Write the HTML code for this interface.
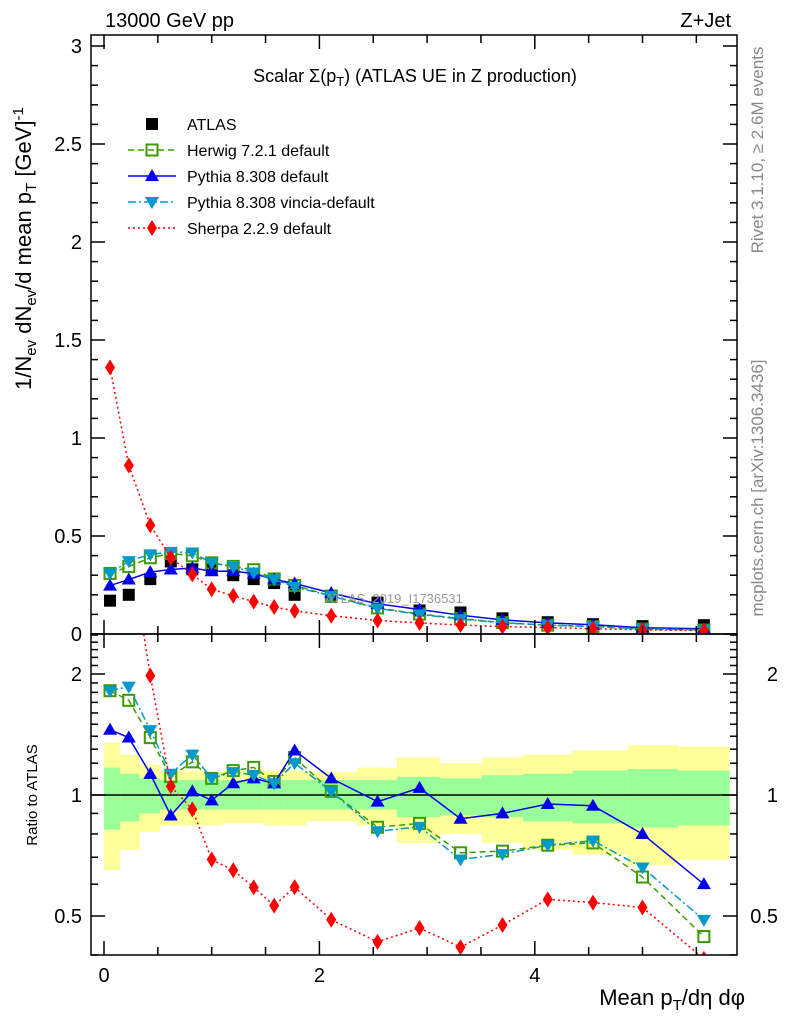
<!DOCTYPE html>
<html><head><meta charset="utf-8">
<style>
html,body{margin:0;padding:0;background:#fff;}
svg{display:block;font-family:"Liberation Sans","DejaVu Sans",sans-serif;}
</style></head>
<body>
<svg id="chart" width="786" height="1024" viewBox="0 0 786 1024">
<defs>
<clipPath id="clipMain"><rect x="91" y="35" width="646" height="599"/></clipPath>
<clipPath id="clipRatio"><rect x="91" y="634" width="646" height="321"/></clipPath>
</defs>
<g id="bands" clip-path="url(#clipRatio)"></g>
<g id="series"></g>
<g id="axes"></g>
<text x="105" y="27" font-size="20">13000 GeV pp</text>
<text x="731" y="27" font-size="20" text-anchor="end">Z+Jet</text>
<text x="415" y="82" font-size="18" text-anchor="middle">Scalar Σ(p<tspan font-size="13" dy="4">T</tspan><tspan dy="-4">) (ATLAS UE in Z production)</tspan></text>
<text x="325" y="603" font-size="13" fill="#999">ATLAS_2019_I1736531</text>
<text transform="translate(763,150) rotate(-90)" font-size="17" fill="#888" text-anchor="middle">Rivet 3.1.10, ≥ 2.6M events</text>
<text transform="translate(763,488) rotate(-90)" font-size="17" fill="#888" text-anchor="middle">mcplots.cern.ch [arXiv:1306.3436]</text>
<text transform="translate(31,390) rotate(-90)" font-size="22">1/N<tspan font-size="15" dy="5">ev</tspan><tspan dy="-5"> dN</tspan><tspan font-size="15" dy="5">ev</tspan><tspan dy="-5">/d mean p</tspan><tspan font-size="15" dy="5">T</tspan><tspan dy="-5"> [GeV]</tspan><tspan font-size="15" dy="-8">-1</tspan></text>
<text transform="translate(37,795) rotate(-90)" font-size="15" text-anchor="middle">Ratio to ATLAS</text>
<text x="745" y="1005" font-size="22" text-anchor="end">Mean p<tspan font-size="15" dy="5">T</tspan><tspan dy="-5">/dη dφ</tspan></text>
<g id="legend"></g>
</svg>
<script>
const xVals=[0.056,0.23,0.43,0.62,0.82,1.0,1.2,1.39,1.58,1.77,2.11,2.54,2.93,3.31,3.70,4.12,4.54,5.0,5.57];
const binEdges=[0,0.15,0.33,0.52,0.72,0.92,1.1,1.3,1.48,1.68,1.88,2.35,2.72,3.12,3.51,3.89,4.35,4.86,5.33,5.81];
const atlas=[0.17,0.20,0.28,0.37,0.33,0.33,0.30,0.28,0.26,0.20,0.19,0.16,0.12,0.11,0.08,0.06,0.05,0.04,0.045];
const herwig=[0.309,0.344,0.389,0.411,0.399,0.363,0.345,0.328,0.281,0.248,0.194,0.133,0.102,0.079,0.058,0.045,0.038,0.025,0.020];
const pythia=[0.247,0.278,0.316,0.329,0.337,0.320,0.321,0.308,0.278,0.258,0.209,0.154,0.125,0.096,0.072,0.057,0.047,0.032,0.027];
const vincia=[0.309,0.372,0.406,0.418,0.416,0.363,0.342,0.314,0.278,0.240,0.194,0.130,0.100,0.076,0.057,0.045,0.0385,0.0264,0.022];
const sherpa=[1.36,0.86,0.555,0.389,0.304,0.228,0.195,0.165,0.138,0.118,0.093,0.069,0.056,0.046,0.038,0.033,0.027,0.021,0.0176];
const totHi=[1.35,1.26,1.19,1.15,1.15,1.14,1.15,1.16,1.15,1.15,1.14,1.17,1.24,1.20,1.24,1.26,1.29,1.33,1.32];
const totLo=[0.65,0.73,0.81,0.84,0.84,0.84,0.85,0.85,0.84,0.84,0.86,0.84,0.76,0.80,0.76,0.73,0.71,0.67,0.69];
const statHi=[1.17,1.13,1.10,1.09,1.09,1.09,1.09,1.09,1.09,1.09,1.09,1.09,1.11,1.10,1.12,1.13,1.15,1.16,1.15];
const statLo=[0.82,0.86,0.90,0.92,0.92,0.92,0.92,0.92,0.92,0.92,0.92,0.92,0.88,0.89,0.88,0.86,0.85,0.83,0.84];
const xTicks=[0,2,4];
const mainTicks=["0","0.5","1","1.5","2","2.5","3"];
const ratioTicks=["0.5","1","2"];

const NS="http://www.w3.org/2000/svg";
const X0=91,X1=737,MT=35,MB=634,RB=955;
const xs=v=>104+v*107.7;
const ym=v=>634-v*196;
const yr=r=>795-Math.log10(r)/0.30103*121;
function mk(tag,attrs,parent){const e=document.createElementNS(NS,tag);for(const k in attrs)e.setAttribute(k,attrs[k]);parent.appendChild(e);return e;}

const bands=document.getElementById('bands');
for(let i=0;i<totHi.length;i++){
  const x=xs(binEdges[i]),w=xs(binEdges[i+1])-x;
  const ry=mk('rect',{x:x,y:yr(totHi[i]),width:w,height:yr(totLo[i])-yr(totHi[i]),fill:'#ffff99'},bands);
  
  
  const rg=mk('rect',{x:x,y:yr(statHi[i]),width:w,height:yr(statLo[i])-yr(statHi[i]),fill:'#99ff99'},bands);
  
  
}
const oneLine=mk('line',{x1:X0,x2:X1,y1:yr(1),y2:yr(1),stroke:'#000','stroke-width':1.5},bands);



function marker(g,type,x,y,color){
  let e;
  if(type==='sq') e=mk('rect',{x:x-6,y:y-6,width:12,height:12,fill:'#000'},g);
  else if(type==='osq') e=mk('rect',{x:x-5.5,y:y-5.5,width:11,height:11,fill:'none',stroke:color,'stroke-width':2},g);
  else if(type==='tu') e=mk('polygon',{points:`${x},${y-7} ${x-7},${y+5} ${x+7},${y+5}`,fill:color},g);
  else if(type==='td') e=mk('polygon',{points:`${x},${y+7} ${x-7},${y-5} ${x+7},${y-5}`,fill:color},g);
  else e=mk('polygon',{points:`${x},${y-8} ${x-5},${y} ${x},${y+8} ${x+5},${y}`,fill:color},g);
  return e;
}
const models=[
 {name:'herwig',vals:herwig,color:'#3c9b00',dash:'6,4',type:'osq',label:'Herwig 7.2.1 default'},
 {name:'pythia',vals:pythia,color:'#0000ee',dash:'',type:'tu',label:'Pythia 8.308 default'},
 {name:'vincia',vals:vincia,color:'#0099cc',dash:'8,3,2,3',type:'td',label:'Pythia 8.308 vincia-default'},
 {name:'sherpa',vals:sherpa,color:'#ff0000',dash:'2,3',type:'dia',label:'Sherpa 2.2.9 default'}
];
const ser=document.getElementById('series');
const gA=mk('g',{'clip-path':'url(#clipMain)'},ser);


atlas.forEach((v,i)=>{const m=marker(gA,'sq',xs(xVals[i]),ym(v));
  
  });
models.forEach(md=>{
  const gm=mk('g',{'clip-path':'url(#clipMain)'},ser);
  
  
  const pts=md.vals.map((v,i)=>xs(xVals[i])+','+ym(v)).join(' ');
  const pl=mk('polyline',{points:pts,fill:'none',stroke:md.color,'stroke-width':1.5,'stroke-dasharray':md.dash},gm);
  
  
  md.vals.forEach((v,i)=>{const m=marker(gm,md.type,xs(xVals[i]),ym(v),md.color);
    
    });
  const gr=mk('g',{'clip-path':'url(#clipRatio)'},ser);
  
  
  const rp=md.vals.map((v,i)=>xs(xVals[i])+','+yr(v/atlas[i])).join(' ');
  const rl=mk('polyline',{points:rp,fill:'none',stroke:md.color,'stroke-width':1.5,'stroke-dasharray':md.dash},gr);
  
  
  md.vals.forEach((v,i)=>{const m=marker(gr,md.type,xs(xVals[i]),yr(v/atlas[i]),md.color);
    
    });
});
const ax=document.getElementById('axes');
function ln(x1,y1,x2,y2,w){return mk('line',{x1,y1,x2,y2,stroke:'#000','stroke-width':w||1.5},ax);}
const f1=mk('rect',{x:X0,y:MT,width:X1-X0,height:MB-MT,fill:'none',stroke:'#000','stroke-width':1.5},ax);


const f2=mk('rect',{x:X0,y:MB,width:X1-X0,height:RB-MB,fill:'none',stroke:'#000','stroke-width':1.5},ax);


function txt(x,y,s,anchor,size,name){const t=mk('text',{x,y,'font-size':size||20,'text-anchor':anchor||'middle'},ax);t.textContent=s;
  
  return t;}
for(let v=0;v<=5.8;v+=0.5){const x=xs(v);
  const L=(Math.abs(v%2)<1e-9)?14:8;
  ln(x,MB,x,MB-L);ln(x,MT,x,MT+L);ln(x,RB,x,RB-L);ln(x,MB,x,MB+L);}
xTicks.forEach(v=>txt(xs(v),982,String(v),'middle',20,'x-tick-label'));
for(let k=0;k<=30;k++){const v=k*0.1,y=ym(v);const L=(k%5===0)?14:7;ln(X0,y,X0+L,y);ln(X1,y,X1-L,y);}
mainTicks.forEach(s=>txt(82,ym(parseFloat(s))+7,s,'end',20,'y-tick-label'));
const rminor=[0.4,0.5,0.6,0.7,0.8,0.9,1,1.1,1.2,1.3,1.4,1.5,1.6,1.7,1.8,1.9,2,2.1,2.2,2.3,2.4,2.5];
rminor.forEach(r=>{const y=yr(r);const L=(r===0.5||r===1||r===2)?14:7;ln(X0,y,X0+L,y);ln(X1,y,X1-L,y);});
ratioTicks.forEach(s=>{txt(82,yr(parseFloat(s))+7,s,'end',20,'ratio-tick-label');txt(778,yr(parseFloat(s))+7,s,'end',20,'ratio-tick-label-right');});
const lg=document.getElementById('legend');
const ents=[{type:'sq',color:'#000',dash:null,label:'ATLAS'}].concat(models);
ents.forEach((e,i)=>{const y=124+i*26;
  const g=mk('g',{},lg);
  
  
  if(e.dash!==null&&e.dash!==undefined) mk('line',{x1:128,x2:176,y1:y,y2:y,stroke:e.color,'stroke-width':1.5,'stroke-dasharray':e.dash},g);
  marker(g,e.type,152,y,e.color);
  const t=mk('text',{x:187,y:y+6,'font-size':16},g);t.textContent=e.label;});
</script>
</body></html>
